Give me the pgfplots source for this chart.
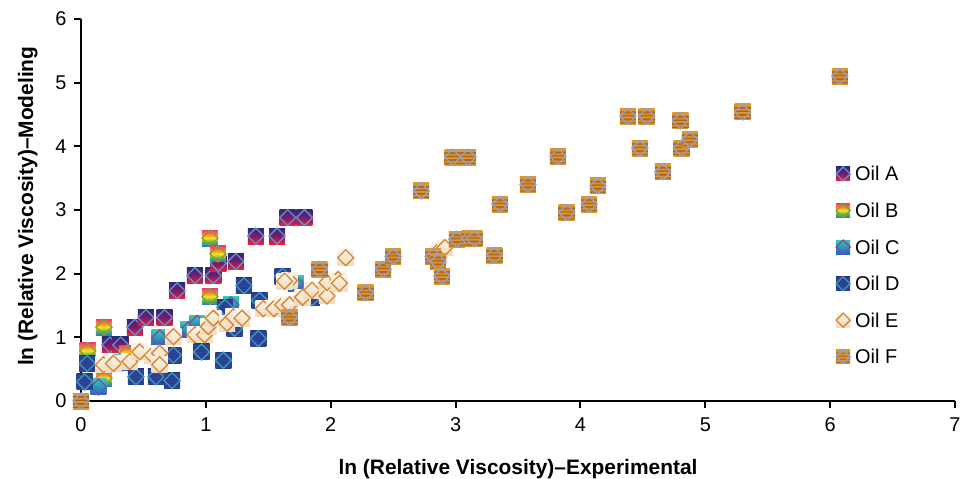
\documentclass[border=0pt]{standalone}
\usepackage{pgfplots}
\pgfplotsset{compat=1.18}
\usepackage{fontspec}
\setmainfont{Liberation Sans}
\usetikzlibrary{calc}

\definecolor{aTop}{HTML}{2B2A7C}\definecolor{aMid}{HTML}{7A1C6C}\definecolor{aBot}{HTML}{EC2238}
\definecolor{bTop}{HTML}{F0406E}\definecolor{bOr}{HTML}{F5892E}\definecolor{bYe}{HTML}{F4E620}
\definecolor{bGr}{HTML}{49B54E}\definecolor{bBl}{HTML}{2C78D2}
\definecolor{cTop}{HTML}{3CC4AE}\definecolor{cBot}{HTML}{2463C6}
\definecolor{dA}{HTML}{263889}\definecolor{dB}{HTML}{3149A2}
\definecolor{eTop}{HTML}{FBF4E6}\definecolor{eBot}{HTML}{EEDCBC}
\definecolor{fO}{HTML}{E0962E}\definecolor{fB}{HTML}{A5621E}
\definecolor{diaA}{HTML}{6B8FCB}\definecolor{diaB}{HTML}{8C9A3A}
\definecolor{diaC}{HTML}{7B4EA0}\definecolor{diaD}{HTML}{3C9AAE}
\definecolor{diaE}{HTML}{DA843A}\definecolor{diaF}{HTML}{8FA2D2}

\pgfdeclareverticalshading{shA}{100bp}{color(0bp)=(aBot); color(25bp)=(aBot); color(50bp)=(aMid); color(75bp)=(aTop); color(100bp)=(aTop)}
\pgfdeclareverticalshading{shB}{100bp}{color(0bp)=(bBl); color(25bp)=(bBl); color(37bp)=(bGr); color(50bp)=(bYe); color(62bp)=(bOr); color(75bp)=(bTop); color(100bp)=(bTop)}
\pgfdeclareverticalshading{shC}{100bp}{color(0bp)=(cBot); color(25bp)=(cBot); color(75bp)=(cTop); color(100bp)=(cTop)}
\pgfdeclareverticalshading{shD}{100bp}{color(0bp)=(dA); color(25bp)=(dA); color(30bp)=(dB); color(35bp)=(dA); color(40bp)=(dB); color(45bp)=(dA); color(50bp)=(dB); color(55bp)=(dA); color(60bp)=(dB); color(65bp)=(dA); color(70bp)=(dB); color(75bp)=(dA); color(100bp)=(dA)}
\pgfdeclareverticalshading{shE}{100bp}{color(0bp)=(eBot); color(25bp)=(eBot); color(75bp)=(eTop); color(100bp)=(eTop)}
\pgfdeclareverticalshading{shF}{100bp}{color(0bp)=(fO); color(25bp)=(fO); color(28bp)=(fO); color(30bp)=(fB); color(33bp)=(fB); color(35bp)=(fO); color(39bp)=(fO); color(41bp)=(fB); color(44bp)=(fB); color(46bp)=(fO); color(50bp)=(fO); color(52bp)=(fB); color(55bp)=(fB); color(57bp)=(fO); color(61bp)=(fO); color(63bp)=(fB); color(66bp)=(fB); color(68bp)=(fO); color(75bp)=(fO); color(100bp)=(fO)}

\newcommand\defoilmark[3]{%
\pgfdeclareplotmark{#1}{%
  \pgfpathrectangle{\pgfpoint{-\pgfplotmarksize}{-\pgfplotmarksize}}{\pgfpoint{2\pgfplotmarksize}{2\pgfplotmarksize}}%
  \pgfshadepath{#2}{0}%
  \pgfusepath{}%
  \pgfsetstrokecolor{#3}%
  \pgfsetlinewidth{1.3bp}%
  \pgfpathmoveto{\pgfpoint{0pt}{\pgfplotmarksize}}%
  \pgfpathlineto{\pgfpoint{\pgfplotmarksize}{0pt}}%
  \pgfpathlineto{\pgfpoint{0pt}{-\pgfplotmarksize}}%
  \pgfpathlineto{\pgfpoint{-\pgfplotmarksize}{0pt}}%
  \pgfpathclose
  \pgfusepathqstroke}}
\defoilmark{oilA}{shA}{diaA}
\defoilmark{oilB}{shB}{diaB}
\defoilmark{oilC}{shC}{diaC}
\defoilmark{oilD}{shD}{diaD}
\defoilmark{oilE}{shE}{diaE}
\defoilmark{oilF}{shF}{diaF}

\begin{document}
\begin{tikzpicture}
\begin{axis}[
  scale only axis, width=874bp, height=382bp,
  xmin=0, xmax=7, ymin=0, ymax=6,
  axis x line*=bottom, axis y line*=left,
  axis line style={line width=2.2bp, black},
  xtick={0,...,7}, ytick={0,...,6},
  tick align=outside, major tick length=7bp,
  tick style={line width=2bp, black},
  ticklabel style={font=\fontsize{20}{24}\selectfont},
  xticklabel style={yshift=-6bp},
  yticklabel style={xshift=-4bp},
  /pgf/number format/assume math mode=true,
  xlabel={ln (Relative Viscosity)–Experimental},
  ylabel={ln (Relative Viscosity)–Modeling},
  label style={font=\fontsize{21}{25}\selectfont\bfseries},
  xlabel style={at={(axis description cs:0.5,-0.1937)}, anchor=base},
  ylabel style={at={(axis description cs:-0.0549,0.51)}, anchor=base},
  only marks, clip=false, mark size=8bp,
  legend image code/.code={\path[#1, mark size=7bp] plot coordinates {(0bp,0bp)};},
  legend style={at={(axis description cs:0.8638,0.6184)}, anchor=north west,
    draw=none, fill=none, inner sep=0pt, row sep=18.55bp, column sep=3bp,
    font=\fontsize{20}{24}\selectfont,
    nodes={inner sep=2bp, text height=14bp, text depth=0bp}},
  legend cell align=left,
]
\addplot[mark=oilA] coordinates {
(0.232,0.88)(0.318,0.88)(0.432,1.16)(0.52,1.31)(0.67,1.31)(0.77,1.73)(0.913,1.97)(1.06,1.97)
(1.10,2.16)(1.24,2.19)(1.40,2.59)(1.57,2.59)(1.655,2.88)(1.79,2.88)};
\addlegendentry{Oil A}
\addplot[mark=oilB] coordinates {
(0.053,0.79)(0.184,1.16)(0.184,0.36)(0.37,0.75)(1.033,2.56)(1.097,2.31)(1.033,1.64)};
\addlegendentry{Oil B}
\addplot[mark=oilC] coordinates {
(0.14,0.22)(0.33,0.60)(0.63,0.99)(0.86,1.12)(0.93,1.22)(1.20,1.51)(1.72,1.84)};
\addlegendentry{Oil C}
\addplot[mark=oilD] coordinates {
(0.03,0.30)(0.05,0.59)(0.44,0.38)(0.60,0.38)(0.73,0.32)(0.74,0.72)(0.966,0.77)(1.14,0.64)
(1.23,1.14)(1.153,1.47)(1.305,1.81)(1.43,1.58)(1.42,0.98)(1.615,1.96)(1.85,1.62)};
\addlegendentry{Oil D}
\addplot[mark=oilE] coordinates {
(0.18,0.57)(0.26,0.59)(0.39,0.62)(0.47,0.77)(0.57,0.72)(0.63,0.75)(0.63,0.57)(0.74,1.01)
(0.913,1.04)(0.99,1.04)(1.02,1.17)(1.06,1.30)(1.17,1.22)(1.22,1.32)(1.29,1.30)(1.46,1.45)
(1.545,1.45)(1.615,1.51)(1.67,1.51)(1.668,1.89)(1.63,1.88)(1.775,1.63)(1.85,1.74)(1.97,1.65)
(1.97,1.86)(2.06,1.91)(2.07,1.85)(2.12,2.25)(2.87,2.37)(2.914,2.41)};
\addlegendentry{Oil E}
\addplot[mark=oilF] coordinates {
(0,0)(1.67,1.31)(1.91,2.07)(2.28,1.70)(2.42,2.07)(2.50,2.27)(2.725,3.30)(2.82,2.27)(2.86,2.19)
(2.89,1.96)(2.976,3.83)(3.01,2.54)(3.10,3.83)(3.11,2.55)(3.15,2.55)(3.31,2.29)(3.355,3.09)
(3.58,3.40)(3.82,3.84)(3.89,2.96)(4.07,3.09)(4.14,3.38)(4.38,4.47)(4.476,3.97)(4.53,4.47)
(4.66,3.60)(4.80,4.40)(4.81,3.97)(4.876,4.11)(5.30,4.54)(6.077,5.10)};
\addlegendentry{Oil F}
\end{axis}
\pgfresetboundingbox
\path ($(current axis.south west)+(-81bp,-78bp)$) rectangle ($(current axis.north east)+(7bp,19bp)$);
\end{tikzpicture}
\end{document}
